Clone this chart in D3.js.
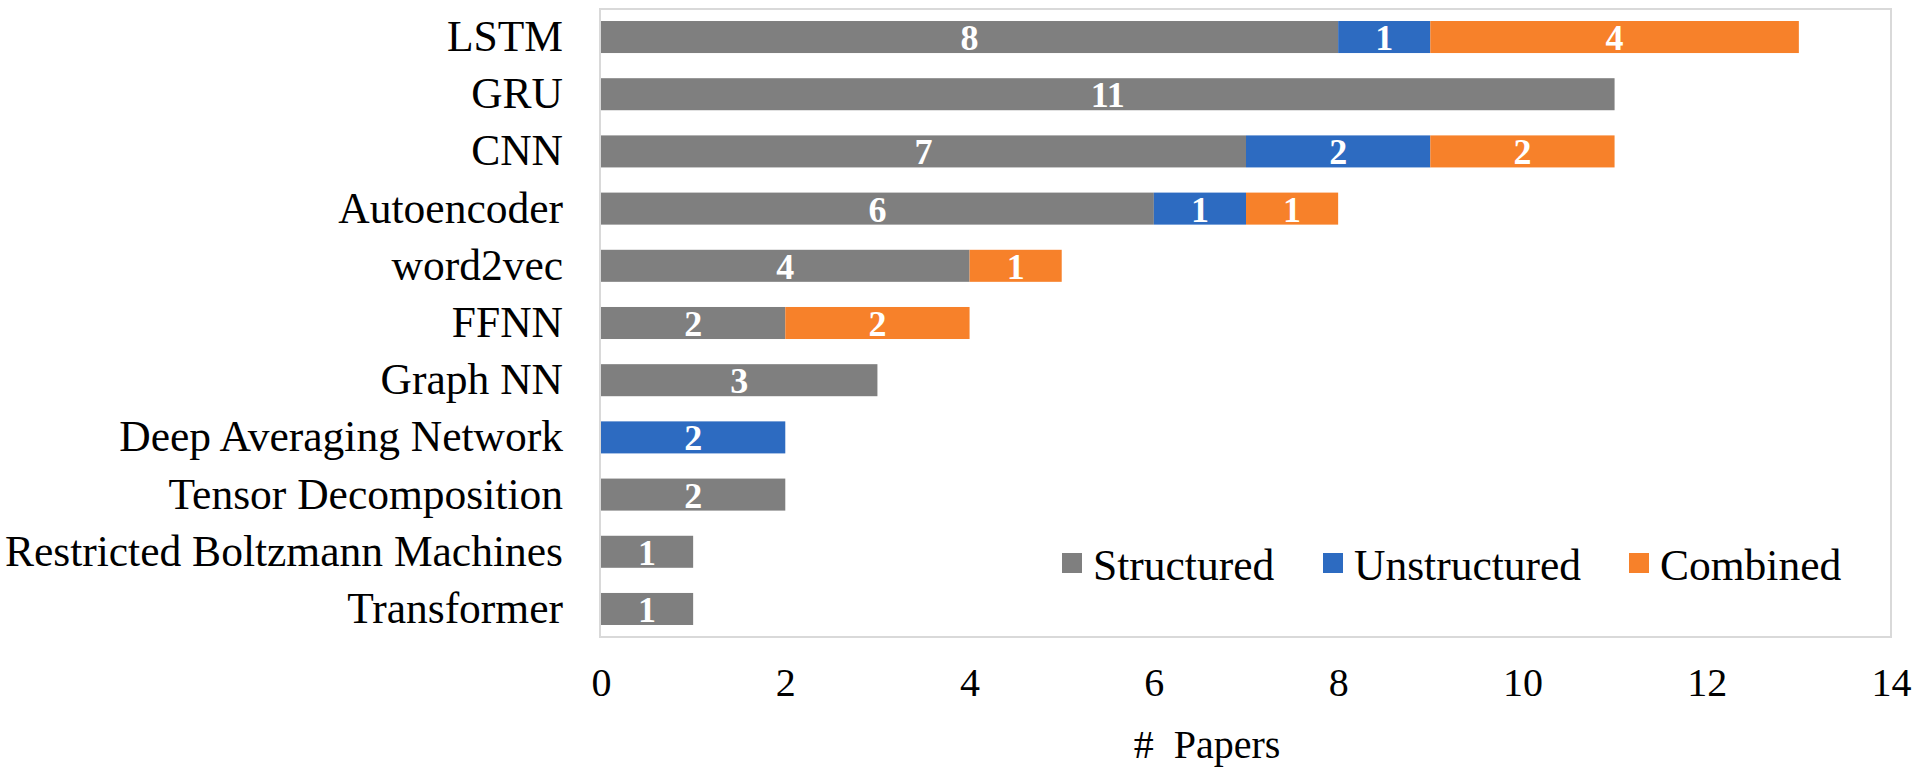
<!DOCTYPE html>
<html>
<head>
<meta charset="utf-8">
<script src="https://cdn.jsdelivr.net/npm/d3@7"></script>
<style>
  html, body { margin: 0; padding: 0; background: #ffffff; }
  svg { display: block; }
  text { font-family: "Liberation Serif", "Times New Roman", serif; }
</style>
</head>
<body>
<svg id="chart" width="1920" height="783"></svg>
<script>
const categories = ["LSTM", "GRU", "CNN", "Autoencoder", "word2vec", "FFNN", "Graph NN",
  "Deep Averaging Network", "Tensor Decomposition", "Restricted Boltzmann Machines", "Transformer"];
const structured   = [8, 11, 7, 6, 4, 2, 3, 0, 2, 1, 1];
const unstructured = [1, 0, 2, 1, 0, 0, 0, 2, 0, 0, 0];
const combined     = [4, 0, 2, 1, 1, 2, 0, 0, 0, 0, 0];
const seriesNames  = ["Structured", "Unstructured", "Combined"];
const seriesColors = ["#7f7f7f", "#2d6bc1", "#f7812a"];
const xTicks = [0, 2, 4, 6, 8, 10, 12, 14];

const svg = d3.select("#chart");
const plot = { left: 600, right: 1891, top: 9, bottom: 637 };

const x = d3.scaleLinear().domain([0, 14]).range([601, 1891]);
const y = d3.scaleBand().domain(categories).range([plot.top, plot.bottom])
  .paddingInner(0.44).paddingOuter(0.21);

const rows = categories.map((c, i) => ({
  cat: c, Structured: structured[i], Unstructured: unstructured[i], Combined: combined[i]
}));
const stack = d3.stack().keys(seriesNames)(rows);

// frame
svg.append("rect")
  .attr("x", plot.left).attr("y", plot.top)
  .attr("width", plot.right - plot.left).attr("height", plot.bottom - plot.top)
  .attr("fill", "none").attr("stroke", "#d9d9d9").attr("stroke-width", 2);

// bars
const layers = svg.append("g").selectAll("g").data(stack).join("g")
  .attr("fill", (d, i) => seriesColors[i]);
layers.selectAll("rect").data(d => d.filter(s => s[1] - s[0] > 0)).join("rect")
  .attr("x", d => x(d[0]))
  .attr("y", d => y(d.data.cat))
  .attr("width", d => x(d[1]) - x(d[0]))
  .attr("height", y.bandwidth());

// value labels
layers.selectAll("text").data(d => d.filter(s => s[1] - s[0] > 0)).join("text")
  .attr("x", d => (x(d[0]) + x(d[1])) / 2)
  .attr("y", d => y(d.data.cat) + y.bandwidth() / 2)
  .attr("dy", "0.36em")
  .attr("text-anchor", "middle")
  .attr("fill", "#ffffff")
  .attr("font-weight", "bold")
  .attr("font-size", 36)
  .text(d => d[1] - d[0]);

// y axis labels
const yAxis = svg.append("g").attr("transform", `translate(${plot.left},0)`)
  .call(d3.axisLeft(y).tickSize(0).tickPadding(37));
yAxis.select(".domain").remove();
yAxis.selectAll("text").attr("font-size", 43.5).attr("fill", "#000")
  .style("font-family", "'Liberation Serif', 'Times New Roman', serif");

// x axis
const xAxis = svg.append("g").attr("transform", `translate(0,${plot.bottom})`)
  .call(d3.axisBottom(x).tickValues(xTicks).tickSize(0).tickPadding(31));
xAxis.select(".domain").remove();
xAxis.selectAll("text").attr("font-size", 40).attr("fill", "#000")
  .style("font-family", "'Liberation Serif', 'Times New Roman', serif");

// x axis title
svg.append("text")
  .attr("x", 1207).attr("y", 758)
  .attr("text-anchor", "middle")
  .attr("font-size", 40)
  .attr("xml:space", "preserve")
  .style("white-space", "pre")
  .text("#  Papers");

// legend
const legendX = [1062, 1323, 1629];
const leg = svg.append("g").selectAll("g").data(seriesNames).join("g")
  .attr("transform", (d, i) => `translate(${legendX[i]},553)`);
leg.append("rect").attr("width", 20).attr("height", 20)
  .attr("fill", (d, i) => seriesColors[i]);
leg.append("text").attr("x", 31).attr("y", 27)
  .attr("font-size", 43.5).attr("fill", "#000")
  .text(d => d);
</script>
</body>
</html>
